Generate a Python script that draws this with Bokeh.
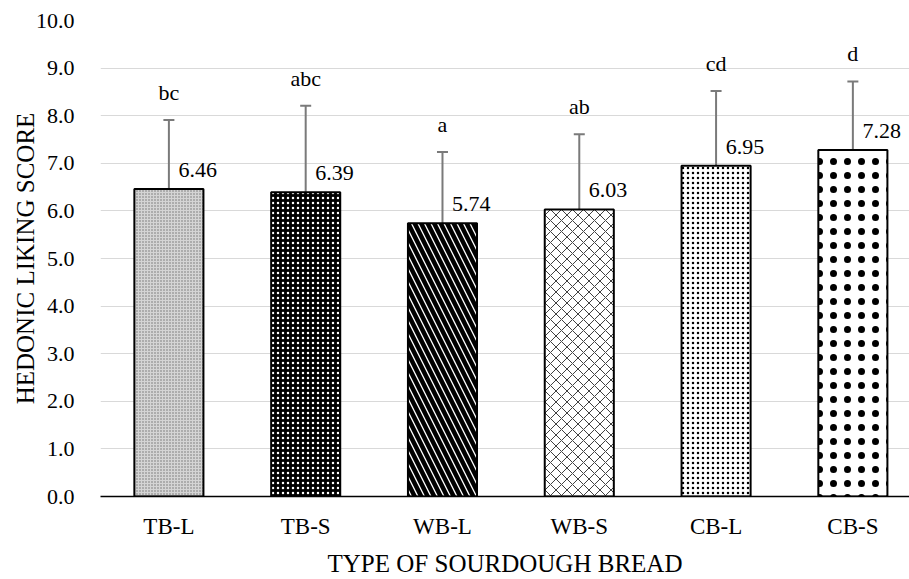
from bokeh.plotting import figure
from bokeh.models import Range1d, FixedTicker, Whisker, ColumnDataSource, TeeHead
from bokeh.core.properties import value
from bokeh.embed import file_html
from bokeh.resources import INLINE

categories = ["TB-L", "TB-S", "WB-L", "WB-S", "CB-L", "CB-S"]
scores = [6.46, 6.39, 5.74, 6.03, 6.95, 7.28]
sds = [1.45, 1.82, 1.50, 1.58, 1.57, 1.44]
letters = ["bc", "abc", "a", "ab", "cd", "d"]
y_ticks = [0, 1, 2, 3, 4, 5, 6, 7, 8, 9, 10]

fills = ["#d4d4d4", "#000000", "#ffffff", "#ffffff", "#ffffff", "#ffffff"]
hatches = ["dot", "dot", "left_diagonal_line", "diagonal_cross", "dot", "dot"]
hatch_colors = ["#707070", "#ffffff", "#000000", "#404040", "#000000", "#000000"]
hatch_scales = [3, 5, 13, 11, 5, 14]
hatch_weights = [1, 2, 4.5, 1, 7, 12]

FONT = "Liberation Serif"
xs = [i + 0.5 for i in range(len(categories))]
src = ColumnDataSource(dict(
    x=xs, top=scores, upper=[s + d for s, d in zip(scores, sds)],
    lower=[s - d for s, d in zip(scores, sds)], fill=fills, hatch=hatches,
    hcol=hatch_colors, hscale=hatch_scales, hw=hatch_weights,
    lab=["%.2f" % s for s in scores], letter=letters,
    xl=[x + 0.07 for x in xs],
))

p = figure(width=909, height=579, output_backend="svg", toolbar_location=None,
           x_range=Range1d(0, 5.914), y_range=Range1d(0, 10),
           min_border_left=100, min_border_right=0, min_border_top=20, min_border_bottom=82)
p.outline_line_color = None
p.background_fill_color = "white"

p.xgrid.grid_line_color = None
p.ygrid.grid_line_color = "#d9d9d9"
p.ygrid.grid_line_width = 1.2
p.ygrid.ticker = FixedTicker(ticks=y_ticks)

p.vbar(x="x", top="top", width=0.505, bottom=0, source=src,
       fill_color="fill", hatch_pattern="hatch", hatch_color="hcol",
       hatch_scale="hscale", hatch_weight="hw",
       line_color="black", line_width=2)

w = Whisker(base="x", upper="upper", lower="lower", source=src,
            line_color="#7a7a7a", line_width=2,
            upper_head=TeeHead(size=11, line_color="#7a7a7a", line_width=2),
            lower_head=TeeHead(size=11, line_color="#7a7a7a", line_width=2))
p.add_layout(w)

p.text(x="xl", y="top", text="lab", source=src, y_offset=-12,
       text_font=value(FONT), text_font_size="22px", text_color="black",
       text_align="left", text_baseline="bottom")
p.text(x="x", y="upper", text="letter", source=src, y_offset=-15,
       text_font=value(FONT), text_font_size="22px", text_color="black",
       text_align="center", text_baseline="bottom")

# axes
p.xaxis.ticker = FixedTicker(ticks=xs)
p.xaxis.major_label_overrides = {x: c for x, c in zip(xs, categories)}
p.xaxis.major_tick_line_color = None
p.xaxis.minor_tick_line_color = None
p.xaxis.axis_line_color = "black"
p.xaxis.axis_line_width = 1.5
p.xaxis.major_label_text_font = FONT
p.xaxis.major_label_text_font_size = "23px"
p.xaxis.major_label_text_color = "black"
p.xaxis.major_label_standoff = 11
p.xaxis.axis_label = "TYPE OF SOURDOUGH BREAD"
p.xaxis.axis_label_text_font = FONT
p.xaxis.axis_label_text_font_style = "normal"
p.xaxis.axis_label_text_font_size = "25px"
p.xaxis.axis_label_text_color = "black"
p.xaxis.axis_label_standoff = 8

p.yaxis.ticker = FixedTicker(ticks=y_ticks)
p.yaxis.major_label_overrides = {t: "%.1f" % t for t in y_ticks}
p.yaxis.major_tick_line_color = None
p.yaxis.minor_tick_line_color = None
p.yaxis.axis_line_color = None
p.yaxis.major_label_text_font = FONT
p.yaxis.major_label_text_font_size = "22px"
p.yaxis.major_label_text_color = "black"
p.yaxis.major_label_standoff = 20
p.yaxis.axis_label = "HEDONIC LIKING SCORE"
p.yaxis.axis_label_text_font = FONT
p.yaxis.axis_label_text_font_style = "normal"
p.yaxis.axis_label_text_font_size = "25px"
p.yaxis.axis_label_text_color = "black"
p.yaxis.axis_label_standoff = -6

open("out.html", "w").write(file_html(p, INLINE))
